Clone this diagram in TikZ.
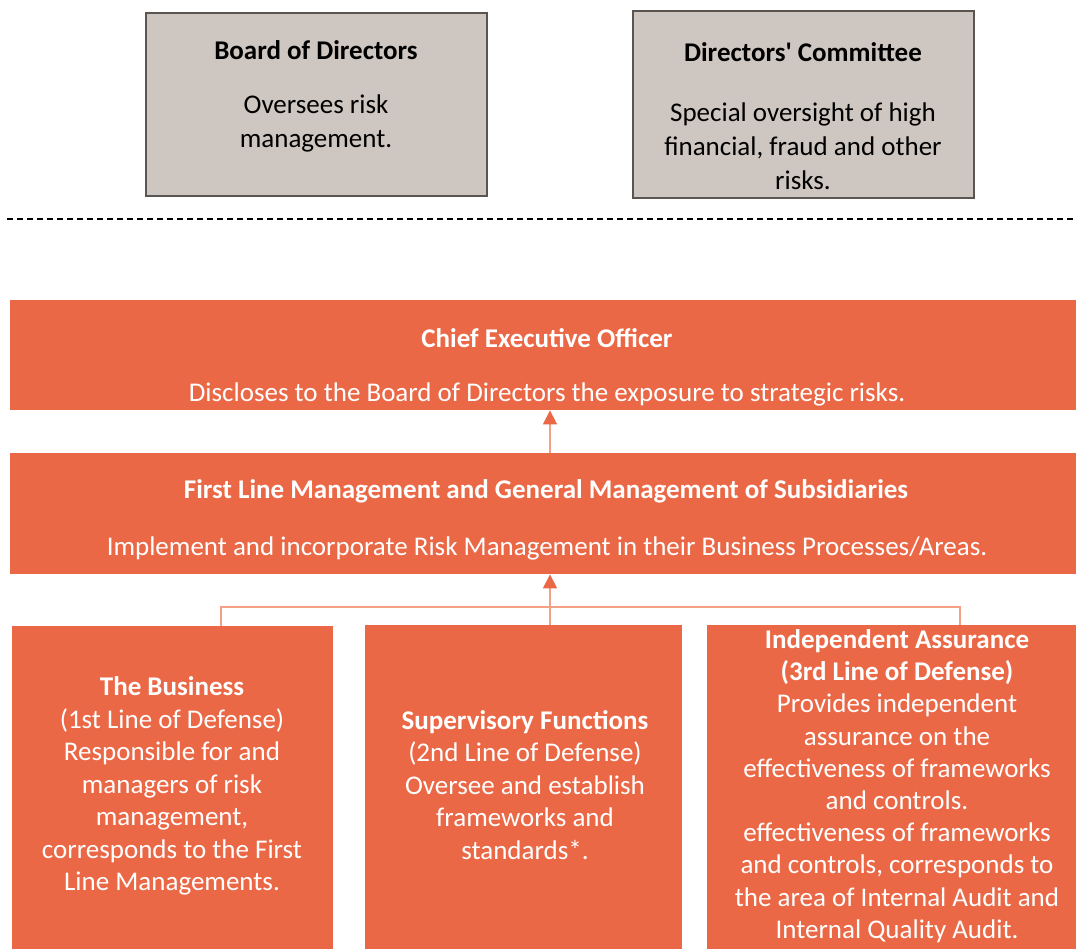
\documentclass[tikz,border=0pt]{standalone}
\usepackage{fontspec}
\setmainfont{Carlito}
\usetikzlibrary{arrows.meta}
\definecolor{org}{HTML}{EB6846}
\definecolor{orgline}{HTML}{F4A087}
\definecolor{greyfill}{HTML}{CEC6C1}
\definecolor{greyline}{HTML}{5A5550}
\begin{document}
\begin{tikzpicture}[x=1pt,y=-1pt,
  gbox/.style={draw=greyline,line width=1.6pt,fill=greyfill,anchor=north west,inner sep=0},
  obox/.style={fill=org,anchor=north west,inner sep=0},
  btxt/.style={font=\fontsize{27}{34}\selectfont,align=center,inner sep=0,text=black},
  wtxt/.style={font=\fontsize{27}{32.5}\selectfont,align=center,inner sep=0,text=white},
  bold/.style={font=\fontsize{27}{32.5}\selectfont\bfseries},
  conn/.style={draw=orgline,line width=1.4pt},
  uparrow/.style={conn,-{Triangle[length=14pt,width=14pt,color=org]}}
]
\useasboundingbox (0,0) rectangle (1076,949);
% top grey boxes
\node[gbox,minimum width=341,minimum height=183] (bod) at (145,12) {};
\node[btxt,bold] (bodt) at (316,50) {Board of Directors};
\node[btxt] (bodb) at (316,123) {Oversees risk\\management.};
\node[gbox,minimum width=341,minimum height=187] (dc) at (632,10) {};
\node[btxt,bold] (dct) at (803,52) {Directors\textquotesingle{} Committee};
\node[btxt] (dcb) at (803,146) {Special oversight of high\\financial, fraud and other\\risks.};
% dashed separator
\coordinate (dl) at (7,219);
\coordinate (dr) at (1076,219);
\draw[line width=1.4pt,dash pattern=on 6pt off 4pt] (dl) -- (dr);
% CEO
\node[obox,minimum width=1080,minimum height=110] (ceo) at (10,300) {};
\node[wtxt,bold] (ceot) at (547,338) {Chief Executive Officer};
\node[wtxt] (ceob) at (547,394) {Discloses to the Board of Directors the exposure to strategic risks.};
% FLM
\node[obox,minimum width=1080,minimum height=121] (flm) at (10,453) {};
\node[wtxt,bold] (flmt) at (546,491) {First Line Management and General Management of Subsidiaries};
\node[wtxt] (flmb) at (547,548) {Implement and incorporate Risk Management in their Business Processes/Areas.};
% bottom boxes
\node[obox,minimum width=321,minimum height=330] (lb) at (12,626) {};
\node[obox,minimum width=317,minimum height=330] (mb) at (365,625) {};
\node[obox,minimum width=380,minimum height=330] (rb) at (707,625) {};
\node[wtxt] (lbt) at (172,786) {\textbf{The Business}\\(1st Line of Defense)\\Responsible for and\\managers of risk\\management,\\corresponds to the First\\Line Managements.};
\node[wtxt] (mbt) at (525,785) {\textbf{Supervisory Functions}\\(2nd Line of Defense)\\Oversee and establish\\frameworks and\\standards*.};
\node[wtxt,font=\fontsize{27}{32.2}\selectfont] (rbt) at (897,786) {\textbf{Independent Assurance}\\\textbf{(3rd Line of Defense)}\\Provides independent\\assurance on the\\effectiveness of frameworks\\and controls.\\effectiveness of frameworks\\and controls, corresponds to\\the area of Internal Audit and\\Internal Quality Audit.};
% connectors
\coordinate (hub) at (550,607);
\coordinate (lc) at (221,607);
\coordinate (rc) at (960,607);
\draw[conn] (lb.north -| lc) -- (lc) -- (rc) -- (rb.north -| rc);
\draw[uparrow] (mb.north -| hub) -- (flm.south -| hub);
\draw[uparrow] (flm.north -| hub) -- (ceo.south -| hub);
\end{tikzpicture}
\end{document}
